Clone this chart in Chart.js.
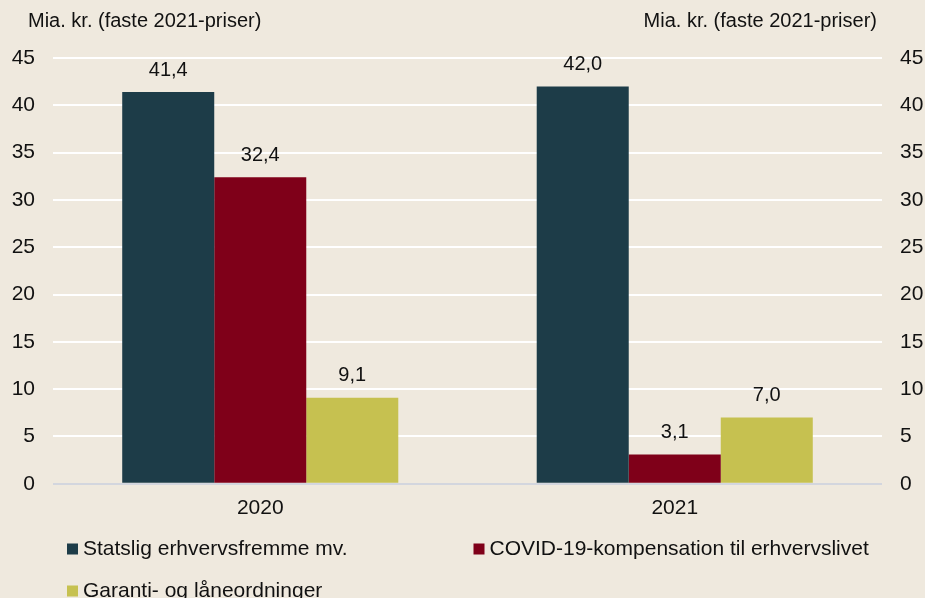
<!DOCTYPE html>
<html><head><meta charset="utf-8">
<script src="https://cdn.jsdelivr.net/npm/chart.js@4.4.1/dist/chart.umd.min.js"></script>
<style>
html,body{margin:0;padding:0;background:#efe9de;}
#wrap{width:925px;height:598px;position:relative;}
</style></head>
<body><div id="wrap"><canvas id="c" width="925" height="598"></canvas></div>
<script>
const categories = ['2020', '2021'];
const seriesNames = ['Statslig erhvervsfremme mv.', 'COVID-19-kompensation til erhvervslivet', 'Garanti- og låneordninger'];
const statsligValues = [41.4, 42.0];
const covidValues = [32.4, 3.1];
const garantiValues = [9.1, 7.0];
const yTicks = [0, 5, 10, 15, 20, 25, 30, 35, 40, 45];
const axisTitle = 'Mia. kr. (faste 2021-priser)';
const colors = ['#1d3c48', '#7f0019', '#c6c150'];
const FONT = '"Liberation Sans", Arial, sans-serif';

const fmt = v => v.toFixed(1).replace('.', ',');

const labelPlugin = {
  id: 'labels',
  afterDatasetsDraw(chart) {
    const ctx = chart.ctx;
    ctx.save();
    ctx.fillStyle = '#111';
    ctx.font = '20px ' + FONT;
    ctx.textAlign = 'center';
    ctx.textBaseline = 'bottom';
    chart.data.datasets.forEach((ds, i) => {
      chart.getDatasetMeta(i).data.forEach((bar, j) => {
        ctx.fillText(fmt(ds.data[j]), bar.x, bar.y - 12);
      });
    });
    // axis titles
    ctx.font = '20px ' + FONT;
    ctx.textBaseline = 'middle';
    ctx.textAlign = 'left';
    ctx.fillText(axisTitle, 28, 21);
    ctx.textAlign = 'right';
    ctx.fillText(axisTitle, 877, 21);
    // legend
    ctx.font = '21px ' + FONT;
    ctx.textAlign = 'left';
    const pos = [[67, 549], [chart.width / 2 + 11, 549], [67, 591]];
    chart.data.datasets.forEach((ds, i) => {
      const [x, y] = pos[i];
      ctx.fillStyle = ds.backgroundColor;
      ctx.fillRect(x, y - 5.5, 11, 11);
      ctx.fillStyle = '#111';
      ctx.fillText(ds.label, x + 16, y);
    });
    ctx.restore();
  }
};

new Chart(document.getElementById('c'), {
  type: 'bar',
  data: {
    labels: categories,
    datasets: [
      { label: seriesNames[0], data: statsligValues, backgroundColor: colors[0] },
      { label: seriesNames[1], data: covidValues, backgroundColor: colors[1] },
      { label: seriesNames[2], data: garantiValues, backgroundColor: colors[2] }
    ]
  },
  options: {
    responsive: false,
    animation: false,
    layout: { padding: { top: 58, bottom: 65, left: 0, right: 0 } },
    datasets: { bar: { categoryPercentage: 0.666, barPercentage: 1.0, borderWidth: 0 } },
    plugins: { legend: { display: false }, tooltip: { enabled: false } },
    scales: {
      x: {
        grid: { display: false, drawTicks: false },
        border: { display: false },
        ticks: { color: '#111', font: { family: FONT, size: 21 }, padding: 12 }
      },
      y: {
        position: 'left',
        min: 0, max: 45,
        afterBuildTicks(axis) { axis.ticks = yTicks.map(v => ({ value: v })); },
        afterFit(axis) { axis.width = 53; },
        grid: { color: ctx => ctx.tick && ctx.tick.value === 0 ? '#d3d6de' : '#ffffff', lineWidth: 2, drawTicks: false },
        border: { display: false },
        ticks: { color: '#111', font: { family: FONT, size: 21 }, padding: 18 }
      },
      y2: {
        position: 'right',
        min: 0, max: 45,
        afterBuildTicks(axis) { axis.ticks = yTicks.map(v => ({ value: v })); },
        afterFit(axis) { axis.width = 43; },
        grid: { display: false, drawTicks: false },
        border: { display: false },
        ticks: { color: '#111', font: { family: FONT, size: 21 }, padding: 18 }
      }
    }
  },
  plugins: [labelPlugin]
});
</script></body></html>
